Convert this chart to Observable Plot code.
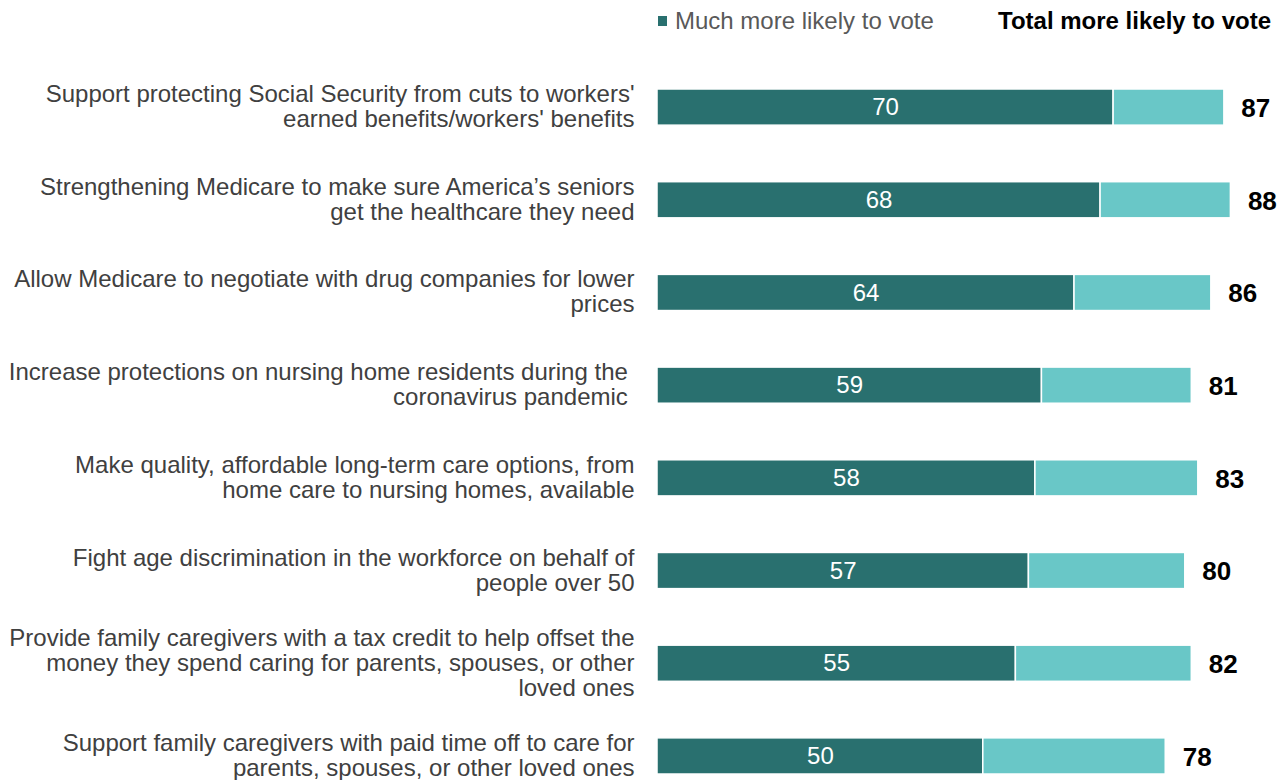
<!DOCTYPE html>
<html>
<head>
<meta charset="utf-8">
<script src="https://cdn.jsdelivr.net/npm/d3@7"></script>
<script src="https://cdn.jsdelivr.net/npm/@observablehq/plot@0.6"></script>
<style>
  html, body { margin: 0; padding: 0; background: #fff; }
  body { width: 1287px; height: 780px; overflow: hidden; font-family: "Liberation Sans", Arial, sans-serif; }
  #legend { position: relative; height: 45px; width: 1287px; }
  #legend .sw { position: absolute; left: 658px; top: 16px; width: 9px; height: 10px; background: #29706f; }
  #legend .l1 { position: absolute; left: 675px; top: 9px; font-size: 24px; line-height: 1; color: #595959; }
  #legend .l2 { position: absolute; right: 16px; top: 9px; font-size: 24px; line-height: 1; font-weight: bold; color: #000; }
  #chart svg { display: block; overflow: visible; }
</style>
</head>
<body>
<div id="legend"><span class="sw"></span><span class="l1">Much more likely to vote</span><span class="l2">Total more likely to vote</span></div>
<div id="chart"></div>
<script>
const categories = [
  "Support protecting Social Security from cuts to workers'\nearned benefits/workers' benefits",
  "Strengthening Medicare to make sure America\u2019s seniors\nget the healthcare they need",
  "Allow Medicare to negotiate with drug companies for lower\nprices",
  "Increase protections on nursing home residents during the\u00a0\ncoronavirus pandemic\u00a0",
  "Make quality, affordable long-term care options, from\nhome care to nursing homes, available",
  "Fight age discrimination in the workforce on behalf of\npeople over 50",
  "Provide family caregivers with a tax credit to help offset the\nmoney they spend caring for parents, spouses, or other\nloved ones",
  "Support family caregivers with paid time off to care for\nparents, spouses, or other loved ones"
];
const much = [70, 68, 64, 59, 58, 57, 55, 50];
const somewhat = [17, 20, 21, 23, 25, 24, 27, 28];
const total = [87, 88, 86, 81, 83, 80, 82, 78];
const segments = ["Much more likely to vote", "Somewhat more likely to vote"];
const colors = ["#29706f", "#69c7c7"];

const bars = [];
categories.forEach((c, i) => {
  bars.push({cat: c, seg: segments[0], value: much[i]});
  bars.push({cat: c, seg: segments[1], value: somewhat[i]});
});
const rows = categories.map((c, i) => ({cat: c, much: much[i], end: much[i] + somewhat[i], total: total[i]}));

const chart = Plot.plot({
  width: 1287,
  height: 735,
  marginLeft: 657,
  marginRight: 11,
  marginTop: 44,
  marginBottom: 6,
  style: {fontFamily: "'Liberation Sans', Arial, sans-serif", background: "#fff"},
  x: {domain: [0, 95], axis: null},
  y: {domain: categories, paddingInner: 0.61, paddingOuter: 0, round: false, axis: null},
  color: {domain: segments, range: colors},
  marks: [
    Plot.barX(bars, Plot.stackX({x: "value", y: "cat", fill: "seg", stroke: "white", strokeWidth: 1.5, order: segments})),
    Plot.text(rows, {x: d => d.much / 2, y: "cat", text: d => String(d.much), fill: "white", fontSize: 24}),
    Plot.text(rows, {x: "end", y: "cat", text: d => String(d.total), dx: 17, dy: 1, textAnchor: "start", fill: "black", fontSize: 26, fontWeight: "bold"}),
    Plot.text(rows, {x: 0, y: "cat", text: "cat", dx: -23, dy: -1, textAnchor: "end", fill: "#404040", fontSize: 24, lineHeight: 1.04})
  ]
});
document.getElementById("chart").appendChild(chart);
</script>
</body>
</html>
